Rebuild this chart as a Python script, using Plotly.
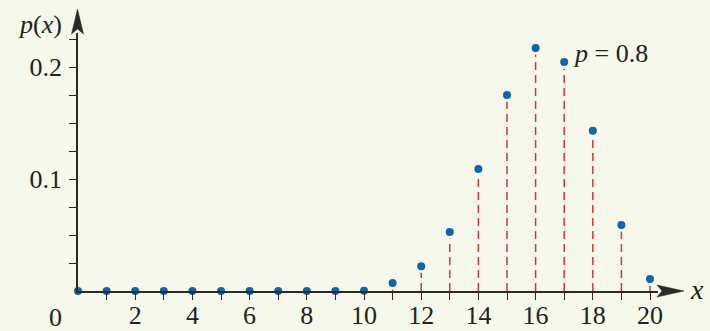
import plotly.graph_objects as go

x_vals = list(range(0, 21))
p_vals = [0, 0, 0, 0, 0, 0, 0, 0, 0, 0, 0.0003,
          0.0072, 0.0222, 0.0527, 0.109, 0.175, 0.217, 0.2045, 0.143, 0.059, 0.0107]
x_tick_vals = list(range(1, 21))
x_tick_text = [str(v) if v % 2 == 0 else "" for v in x_tick_vals]
y_tick_vals = [0.025, 0.05, 0.075, 0.1, 0.125, 0.15, 0.175, 0.2, 0.225]
y_tick_text = ["", "", "", "0.1", "", "", "", "0.2", ""]
p_label = "<i>p</i> = 0.8"

BG = "#F6F8EB"
AX = "#2a2a2a"
BLUE = "#0A66B2"
RED = "#D8353A"
TXT = "#222"
FONT = "Liberation Serif, Times New Roman, serif"
FS = 26

# plot area geometry (pixels)
L, R, T, B = 78, 52, 33, 40
W, H = 710, 331
pw = W - L - R
ph = H - T - B
px_per_x = 28.6
px_per_y = 1120.0

def px(xp):
    return (xp - L) / pw

def py(yp):
    return (H - B - yp) / ph

# dashed stems
sx, sy = [], []
for xv, pv in zip(x_vals, p_vals):
    if pv > 0.005:
        sx += [xv, xv, None]
        sy += [0, pv - 0.006, None]

fig = go.Figure()
fig.add_trace(go.Scatter(x=sx, y=sy, mode="lines",
                         line=dict(color=RED, width=1.5, dash="8px,5px"),
                         hoverinfo="skip", cliponaxis=False))
fig.add_trace(go.Scatter(x=x_vals, y=p_vals, mode="markers",
                         marker=dict(color=BLUE, size=8),
                         cliponaxis=False))

fig.update_layout(
    width=W, height=H,
    margin=dict(l=L, r=R, t=T, b=B, autoexpand=False),
    paper_bgcolor=BG, plot_bgcolor=BG,
    showlegend=False,
    font=dict(family=FONT, size=FS, color=TXT),
    xaxis=dict(range=[0, pw / px_per_x], showgrid=False, zeroline=False,
               automargin=False,
               showline=True, linecolor=AX, linewidth=1.5,
               ticks="outside", ticklen=7, tickwidth=1.2, tickcolor=AX,
               tickvals=x_tick_vals, ticktext=x_tick_text,
               ticklabelstandoff=-7,
               tickfont=dict(family=FONT, size=FS, color=TXT)),
    yaxis=dict(range=[0, ph / px_per_y], showgrid=False, zeroline=False,
               automargin=False,
               showline=True, linecolor=AX, linewidth=1.5,
               ticks="outside", ticklen=7, tickwidth=1.2, tickcolor=AX,
               tickvals=y_tick_vals, ticktext=y_tick_text,
               ticklabelstandoff=2,
               tickfont=dict(family=FONT, size=FS, color=TXT)),
)

# arrowheads
fig.add_shape(type="path", xref="paper", yref="paper",
              path=f"M {px(77.5)},{py(9)} L {px(83.5)},{py(34)} L {px(77.5)},{py(29)} L {px(71.5)},{py(34)} Z",
              fillcolor=AX, line=dict(color=AX, width=0.5))
fig.add_shape(type="path", xref="paper", yref="paper",
              path=f"M {px(684)},{py(291)} L {px(657)},{py(297)} L {px(662)},{py(291)} L {px(657)},{py(285)} Z",
              fillcolor=AX, line=dict(color=AX, width=0.5))

# axis titles and labels
def label(xp, yp, text, size=FS, height=None):
    fig.add_annotation(x=px(xp), y=py(yp), xref="paper", yref="paper",
                       xanchor="center", yanchor="middle",
                       text=text, showarrow=False, height=height,
                       borderpad=0,
                       font=dict(family=FONT, size=size, color=TXT))

label(40, 25, "<i>p</i>(<i>x</i>)")
label(697, 289, "<i>x</i>", 28)
label(55, 317, "0", height=24)
fig.add_annotation(x=17.25, y=0.212, xref="x", yref="y",
                   xanchor="left", yanchor="middle",
                   text=p_label, showarrow=False,
                   font=dict(family=FONT, size=FS, color=TXT))

fig.write_html("out.html", config={"displayModeBar": False})

with open("out.html", "r", encoding="utf-8") as f:
    html = f.read()
html = html.replace("<head>", "<head><style>html,body{margin:0;padding:0;overflow:hidden;}</style>", 1)
with open("out.html", "w", encoding="utf-8") as f:
    f.write(html)
